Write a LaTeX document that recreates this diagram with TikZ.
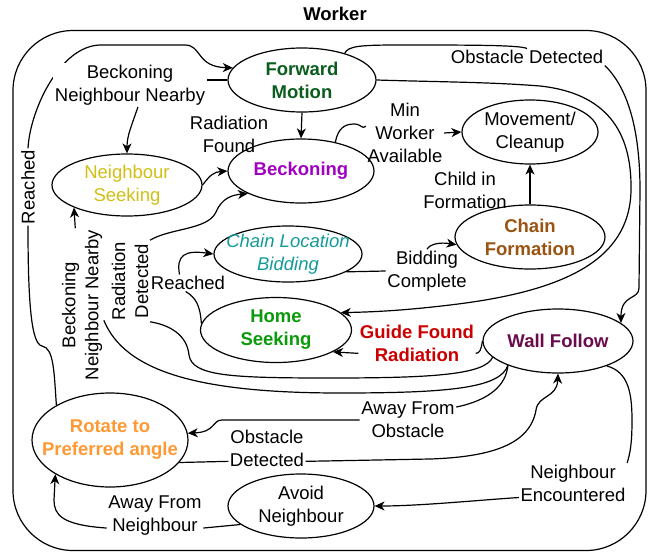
\documentclass[tikz,border=0pt]{standalone}
\usepackage{fontspec}
\setmainfont{Liberation Sans}
\usetikzlibrary{arrows.meta,shapes.geometric}
\definecolor{cFM}{HTML}{0B5D1E}
\definecolor{cBK}{HTML}{A000C0}
\definecolor{cNS}{HTML}{D1BE16}
\definecolor{cCLB}{HTML}{139A9A}
\definecolor{cCF}{HTML}{9A5311}
\definecolor{cHS}{HTML}{0A9A0A}
\definecolor{cWF}{HTML}{6A0C4C}
\definecolor{cROT}{HTML}{FF9933}
\definecolor{cGFR}{HTML}{CC0000}
\begin{document}
\begin{tikzpicture}[x=1pt,y=-1pt,
  txt/.style={font=\fontsize{18.5}{23}\selectfont},
  btxt/.style={font=\fontsize{18.5}{23}\selectfont\bfseries},
  itxt/.style={font=\fontsize{18.5}{23}\selectfont\itshape},
  state/.style={ellipse,draw,line width=1.2pt,inner xsep=-14pt,inner ysep=-10pt,align=center},
  lbl/.style={txt,align=center,inner sep=1.5pt},
  conn/.style={line width=1.2pt},
  arr/.style={conn,-{Stealth[length=10pt,width=9pt,inset=3pt]}},
]
\useasboundingbox (0,0) rectangle (648,552);
\node[btxt] (ttl) at (335,14) {Worker};
\node[draw,line width=1.2pt,rounded corners=60pt,minimum width=633pt,minimum height=520pt,inner sep=0pt] (frame) at (329.5,290.5) {};

% states
\node[state,btxt,text=cFM,minimum width=148pt,minimum height=64pt] (fm) at (302,80) {Forward\\Motion};
\node[state,btxt,text=cBK,minimum width=146pt,minimum height=64pt] (bk) at (301,171) {Beckoning};
\node[state,txt,text=cNS,minimum width=150pt,minimum height=62pt] (ns) at (127,185) {Neighbour\\Seeking};
\node[state,txt,minimum width=136pt,minimum height=64pt] (mc) at (530,132) {Movement/\\Cleanup};
\node[state,itxt,text=cCLB,minimum width=148pt,minimum height=56pt] (clb) at (288,254) {Chain Location\\Bidding};
\node[state,btxt,text=cCF,minimum width=150pt,minimum height=64pt] (cf) at (530,237) {Chain\\Formation};
\node[state,btxt,text=cHS,minimum width=151pt,minimum height=65pt] (hs) at (276,330) {Home\\Seeking};
\node[state,btxt,text=cWF,minimum width=150pt,minimum height=64pt] (wf) at (558,341) {Wall Follow};
\node[state,btxt,text=cROT,minimum width=156pt,minimum height=94pt] (rot) at (110,440) {Rotate to\\Preferred angle};
\node[state,txt,minimum width=146pt,minimum height=64pt] (an) at (301,506) {Avoid\\Neighbour};

% labels
\node[lbl,rotate=90] (L1) at (28,187) {Reached};
\node[lbl] (L3) at (229,134) {Radiation\\Found};
\node[lbl] (L4) at (405,133) {Min\\Worker\\Available};
\node[lbl] (L5) at (465,190) {Child in\\Formation};
\node[lbl] (L6) at (427,271) {Bidding\\Complete};
\node[lbl] (L7) at (188,283) {Reached};
\node[lbl,rotate=90] (L8) at (130,281) {Radiation\\Detected};
\node[lbl,rotate=90] (L9) at (82,305) {Beckoning\\Neighbour Nearby};
\node[lbl,btxt,text=cGFR] (L10) at (417,343) {Guide Found\\Radiation};
\node[lbl] (L11) at (527,57) {Obstacle Detected};
\node[lbl] (L12) at (408,420) {Away From\\Obstacle};
\node[lbl] (L13) at (267,448) {Obstacle\\Detected};
\node[lbl] (L14) at (573,483) {Neighbour\\Encountered};
\node[lbl] (L15) at (155,516) {Away From\\Neighbour};

% Reached: rotate -> forward motion
\draw[conn] (rot.147) .. controls (54,372) and (54,348) .. (42,346) .. controls (31,344) and (28,300) .. (L1.west);
\draw[arr] (L1.east) .. controls (30,110) and (60,46) .. (100,45) -- (185,45) .. controls (202,45) and (196,67) .. (fm.170);
\node[lbl,fill=white] (L2) at (130,85) {Beckoning\\Neighbour Nearby};

% forward motion -> neighbour seeking
\draw[conn] (fm.west) -- (fm.west -| L2.east);
\draw[arr] (L2.-70) .. controls (132,125) and (127,135) .. (ns.north);
% radiation found
\draw[arr] (fm.south) -- (bk.north);
% neighbour seeking -> beckoning
\draw[arr] (ns.east) .. controls (210,175) and (214,172) .. (bk.west);
% min worker available
\draw[conn] (bk.40) .. controls (338,128) and (345,124) .. (354,124) .. controls (362,124) and (362,130) .. (L4.170);
\draw[arr] (L4.east) -- (mc.west);
% child in formation
\draw[arr] (cf.north) -- (mc.south);
% bidding complete
\draw[conn] (clb.-17) -- (L6.west);
\draw[arr] (L6.north) .. controls (430,244) and (440,242) .. (cf.186);
% reached: home seeking -> chain location bidding
\draw[conn] (hs.175) .. controls (200,305) and (196,298) .. (L7.-105);
\draw[arr] (L7.135) .. controls (176,255) and (185,250) .. (clb.west);
% radiation detected: wall follow -> beckoning
\draw[conn] (wf.194) .. controls (485,375) and (430,378) .. (330,378) .. controls (230,378) and (192,376) .. (189,355) .. controls (187,335) and (170,325) .. (L8.south west);
\draw[arr] (L8.south east) .. controls (170,228) and (208,230) .. (216,212) .. controls (222,198) and (232,195) .. (bk.203);
% beckoning neighbour nearby: wall follow -> neighbour seeking
\draw[conn] (wf.206) .. controls (500,388) and (450,393) .. (340,393) .. controls (200,393) and (125,372) .. (L9.-125);
\draw[arr] (L9.5) -- (ns.203);
% guide found radiation
\draw[conn] (wf.west) .. controls (481,350) and (480,353) .. (L10.-10);
\draw[arr] (L10.190) -- (hs.-21);
% forward motion -> home seeking
\draw[arr] (fm.east) .. controls (440,82) and (490,82) .. (540,86) .. controls (605,93) and (632,130) .. (631,190) .. controls (630,262) and (560,292) .. (450,305) .. controls (400,311) and (370,312) .. (hs.15);
% obstacle detected: forward motion -> wall follow
\draw[conn] (fm.32) .. controls (348,46) and (360,45) .. (400,45) .. controls (470,45) and (520,45) .. (L11.north);
\draw[arr] (L11.south east) .. controls (628,88) and (640,130) .. (640,190) -- (639,288) .. controls (639,300) and (621,294) .. (wf.16);
% away from obstacle
\draw[conn] (wf.206) .. controls (506,385) and (490,400) .. (L12.15);
\draw[arr] (L12.west) -- (222,420) .. controls (212,420) and (216,432) .. (rot.5);
% obstacle detected: rotate -> wall follow
\draw[conn] (rot.-18) -- (L13.199);
\draw[arr] (L13.-19) -- (430,459) .. controls (490,457) and (530,445) .. (536,410) .. controls (538,395) and (557,398) .. (wf.south);
% neighbour encountered
\draw[conn] (wf.-27) .. controls (628,372) and (632,392) .. (632,420) .. controls (632,445) and (630,453) .. (L14.north east);
\draw[arr] (L14.195) .. controls (480,500) and (420,506) .. (an.east);
% away from neighbour
\draw[conn] (an.197) -- (L15.-14);
\draw[arr] (L15.194) .. controls (62,525) and (54,515) .. (54,500) -- (rot.212);
\end{tikzpicture}
\end{document}
